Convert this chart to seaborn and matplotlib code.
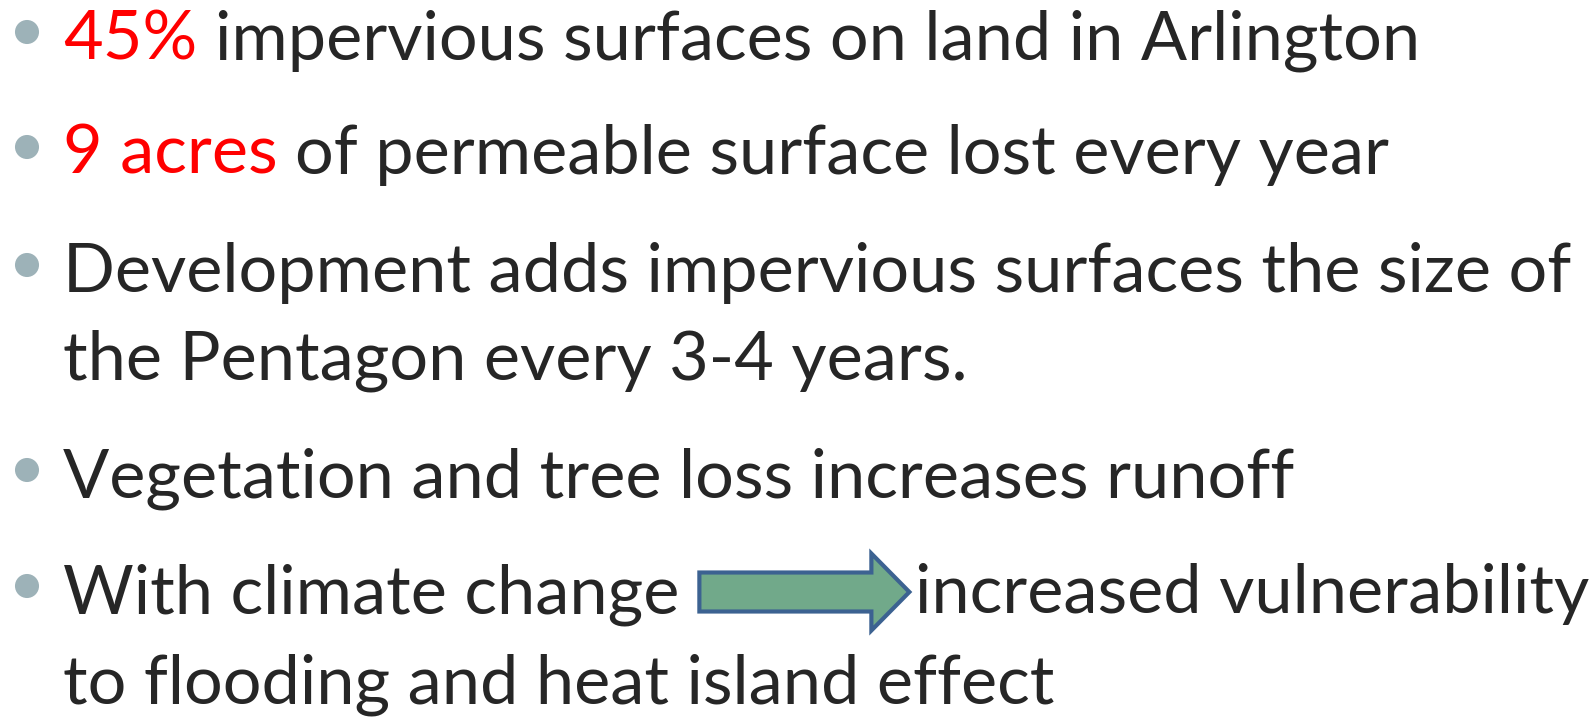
import matplotlib
matplotlib.use("Agg")
import matplotlib.pyplot as plt
import seaborn as sns
import pandas as pd
from matplotlib.patches import FancyArrow

# Текст слайда: каждая строка - список фрагментов (текст, цвет)
line_1 = [("45%", "red"), ("impervious surfaces on land in Arlington", "dark")]
line_2 = [("9 acres", "red"), ("of permeable surface lost every year", "dark")]
line_3 = [("Development adds impervious surfaces the size of", "dark")]
line_4 = [("the Pentagon every 3-4 years.", "dark")]
line_5 = [("Vegetation and tree loss increases runoff", "dark")]
line_6a = [("With climate change", "dark")]
line_6b = [("increased vulnerability", "dark")]
line_7 = [("to flooding and heat island effect", "dark")]

colors = {"red": "#FF0000", "dark": "#262626"}
bullet_color = "#9DB2B8"

# Расположение (пиксели): базовые линии строк
baselines = [59, 174, 292, 380, 497, 613, 703]
has_bullet = [True, True, True, False, True, True, False]
text_x = 63
bullet_x = 27

sns.set_theme(style="white")
plt.rcParams["font.family"] = ["Lato", "DejaVu Sans"]

W, H = 1590, 718
fig = plt.figure(figsize=(W / 100, H / 100), dpi=100)
ax = fig.add_axes([0, 0, 1, 1])
ax.set_xlim(0, W)
ax.set_ylim(H, 0)
ax.axis("off")
renderer = fig.canvas.get_renderer()


def text_width(s, size):
    t = ax.text(0, 0, s, fontsize=size)
    w = t.get_window_extent(renderer).width
    t.remove()
    return w


# Подбираем размер шрифта по ширине первой строки
target = 1418 - text_x
probe = 50
full_1 = "45% impervious surfaces on land in Arlington"
fs = probe * target / text_width(full_1, probe)
space_w = text_width("n n", fs) - text_width("nn", fs)


def draw_line(parts, x, y):
    for i, (s, c) in enumerate(parts):
        ax.text(x, y, s, fontsize=fs, color=colors[c], ha="left", va="baseline")
        x += text_width(s, fs)
        if i < len(parts) - 1:
            x += space_w
    return x


draw_line(line_1, text_x, baselines[0])
draw_line(line_2, text_x, baselines[1])
draw_line(line_3, text_x, baselines[2])
draw_line(line_4, text_x, baselines[3])
draw_line(line_5, text_x, baselines[4])
end_6 = draw_line(line_6a, text_x, baselines[5])

# Стрелка между фрагментами шестой строки
arrow_x0 = end_6 + 20
arrow_len = 210
arrow_y = baselines[5] - 21
arrow = FancyArrow(arrow_x0, arrow_y, arrow_len, 0, width=39, head_width=77,
                   head_length=38, length_includes_head=True,
                   facecolor="#71A98A", edgecolor="#3C6291", linewidth=3,
                   joinstyle="miter")
ax.add_patch(arrow)
draw_line(line_6b, arrow_x0 + arrow_len + 6, baselines[5])
draw_line(line_7, text_x, baselines[6])

# Маркеры списка
bullets = pd.DataFrame({
    "x": [bullet_x] * sum(has_bullet),
    "y": [b - 27 for b, f in zip(baselines, has_bullet) if f],
})
sns.scatterplot(data=bullets, x="x", y="y", ax=ax, s=300, color=bullet_color,
                edgecolor="none", legend=False)
ax.set_xlim(0, W)
ax.set_ylim(H, 0)
ax.axis("off")

fig.savefig("out.png", dpi=100)
